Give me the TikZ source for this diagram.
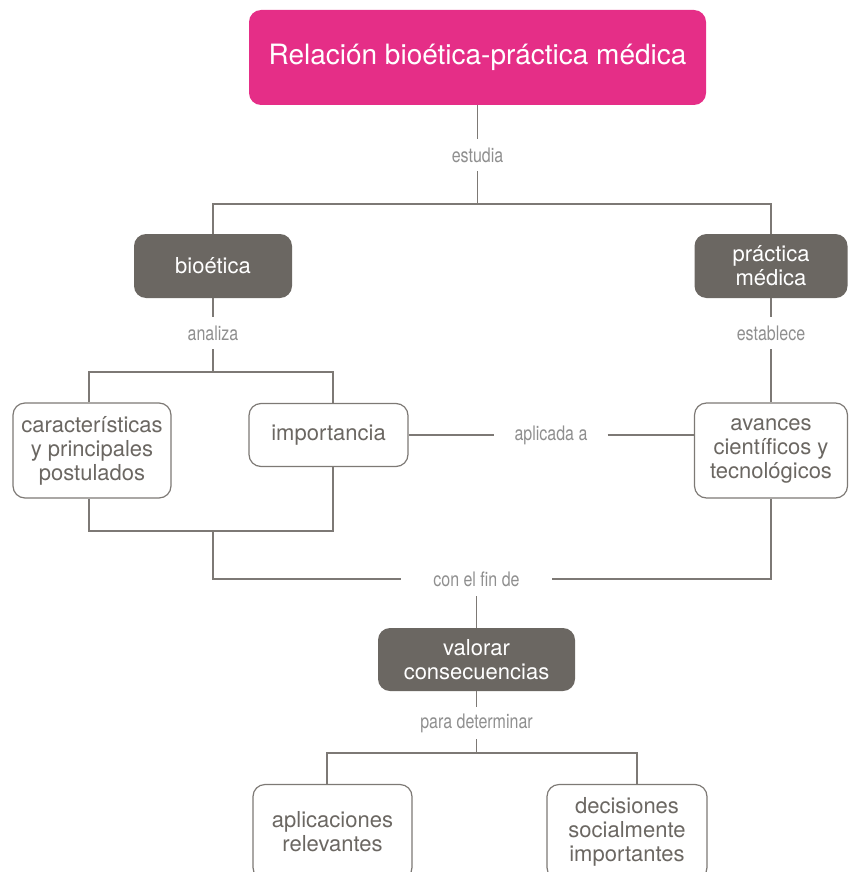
\documentclass[tikz,border=0pt]{standalone}
\usepackage{fontspec}
\setmainfont{TeX Gyre Heros}
\newfontfamily\labelfont[FakeStretch=0.8]{TeX Gyre Heros}
\usepackage{tikz}
\definecolor{rosa}{HTML}{E52E87}
\definecolor{gris}{HTML}{6B6762}
\definecolor{linea}{HTML}{7D7975}
\definecolor{etiqueta}{HTML}{8F8F8F}

\tikzset{
  titulo/.style={fill=rosa, text=white, rounded corners=12pt, minimum width=457pt, minimum height=95pt, font=\fontsize{28}{32}\selectfont},
  oscuro/.style={fill=gris, text=white, rounded corners=12pt, minimum height=64pt, align=center, font=\fontsize{22}{24}\selectfont},
  claro/.style={draw=linea, line width=1.2pt, fill=white, text=gris, rounded corners=12pt, align=center, font=\fontsize{22}{24}\selectfont},
  etiq/.style={text=etiqueta, inner xsep=20pt, minimum height=32pt, font=\labelfont\fontsize{20}{22}\selectfont},
  enlace/.style={draw=linea, line width=1.3pt}
}

\begin{document}
\begin{tikzpicture}[x=1pt, y=-1pt]
\useasboundingbox (0,0) rectangle (849,872);
\node[titulo] (rel) at (477.5,57.5) {Relación bioética-práctica médica};
\node[oscuro, minimum width=158pt] (bioetica) at (213,266) {bioética};
\node[oscuro, minimum width=153pt] (practica) at (771,266) {práctica\\médica};
\node[claro, minimum width=158pt, minimum height=95pt] (caract) at (92,450.5) {características\\y principales\\postulados};
\node[claro, minimum width=159pt, minimum height=63pt] (importancia) at (328.5,435) {importancia};
\node[claro, minimum width=153pt, minimum height=95pt] (avances) at (771,450.5) {avances\\científicos y\\tecnológicos};
\node[oscuro, minimum width=197pt, minimum height=63pt] (valorar) at (476.5,659.5) {valorar\\consecuencias};
\node[claro, minimum width=159pt, minimum height=95pt] (aplic) at (332.5,832) {aplicaciones\\relevantes};
\node[claro, minimum width=160pt, minimum height=95pt] (decis) at (627,832) {decisiones\\socialmente\\importantes};

\node[etiq] (estudia) at (477.5,155) {estudia};
\node[etiq] (analiza) at (213,333) {analiza};
\node[etiq] (establece) at (771,333) {establece};
\node[etiq] (aplicada) at (551,435) {aplicada a};
\node[etiq, inner xsep=32pt, minimum height=34pt] (confin) at (476.5,579) {con el fin de};
\node[etiq] (para) at (476.5,723) {para determinar};

\coordinate (c1) at (477.5,204);
\coordinate (c2) at (213,372);
\coordinate (c3) at (213,531);
\coordinate (c4) at (476.5,753);

\draw[enlace] (rel) -- (estudia) -- (c1);
\draw[enlace] (bioetica) |- (c1) -| (practica);
\draw[enlace] (bioetica) -- (analiza) -- (c2);
\draw[enlace] ([xshift=-3pt]caract.north) |- (c2) -| ([xshift=4.5pt]importancia.north);
\draw[enlace] (practica) -- (establece) -- (avances);
\draw[enlace] (importancia) -- (aplicada) -- (aplicada -| avances.west);
\draw[enlace] ([xshift=-3pt]caract.south) |- (c3) -| ([xshift=4.5pt]importancia.south);
\draw[enlace] (c3) |- (confin);
\draw[enlace] (avances) |- (confin);
\draw[enlace] (confin) -- (valorar);
\draw[enlace] (valorar) -- (para) -- (c4);
\draw[enlace] ([xshift=-5.5pt]aplic.north) |- (c4) -| ([xshift=10pt]decis.north);
\end{tikzpicture}
\end{document}
